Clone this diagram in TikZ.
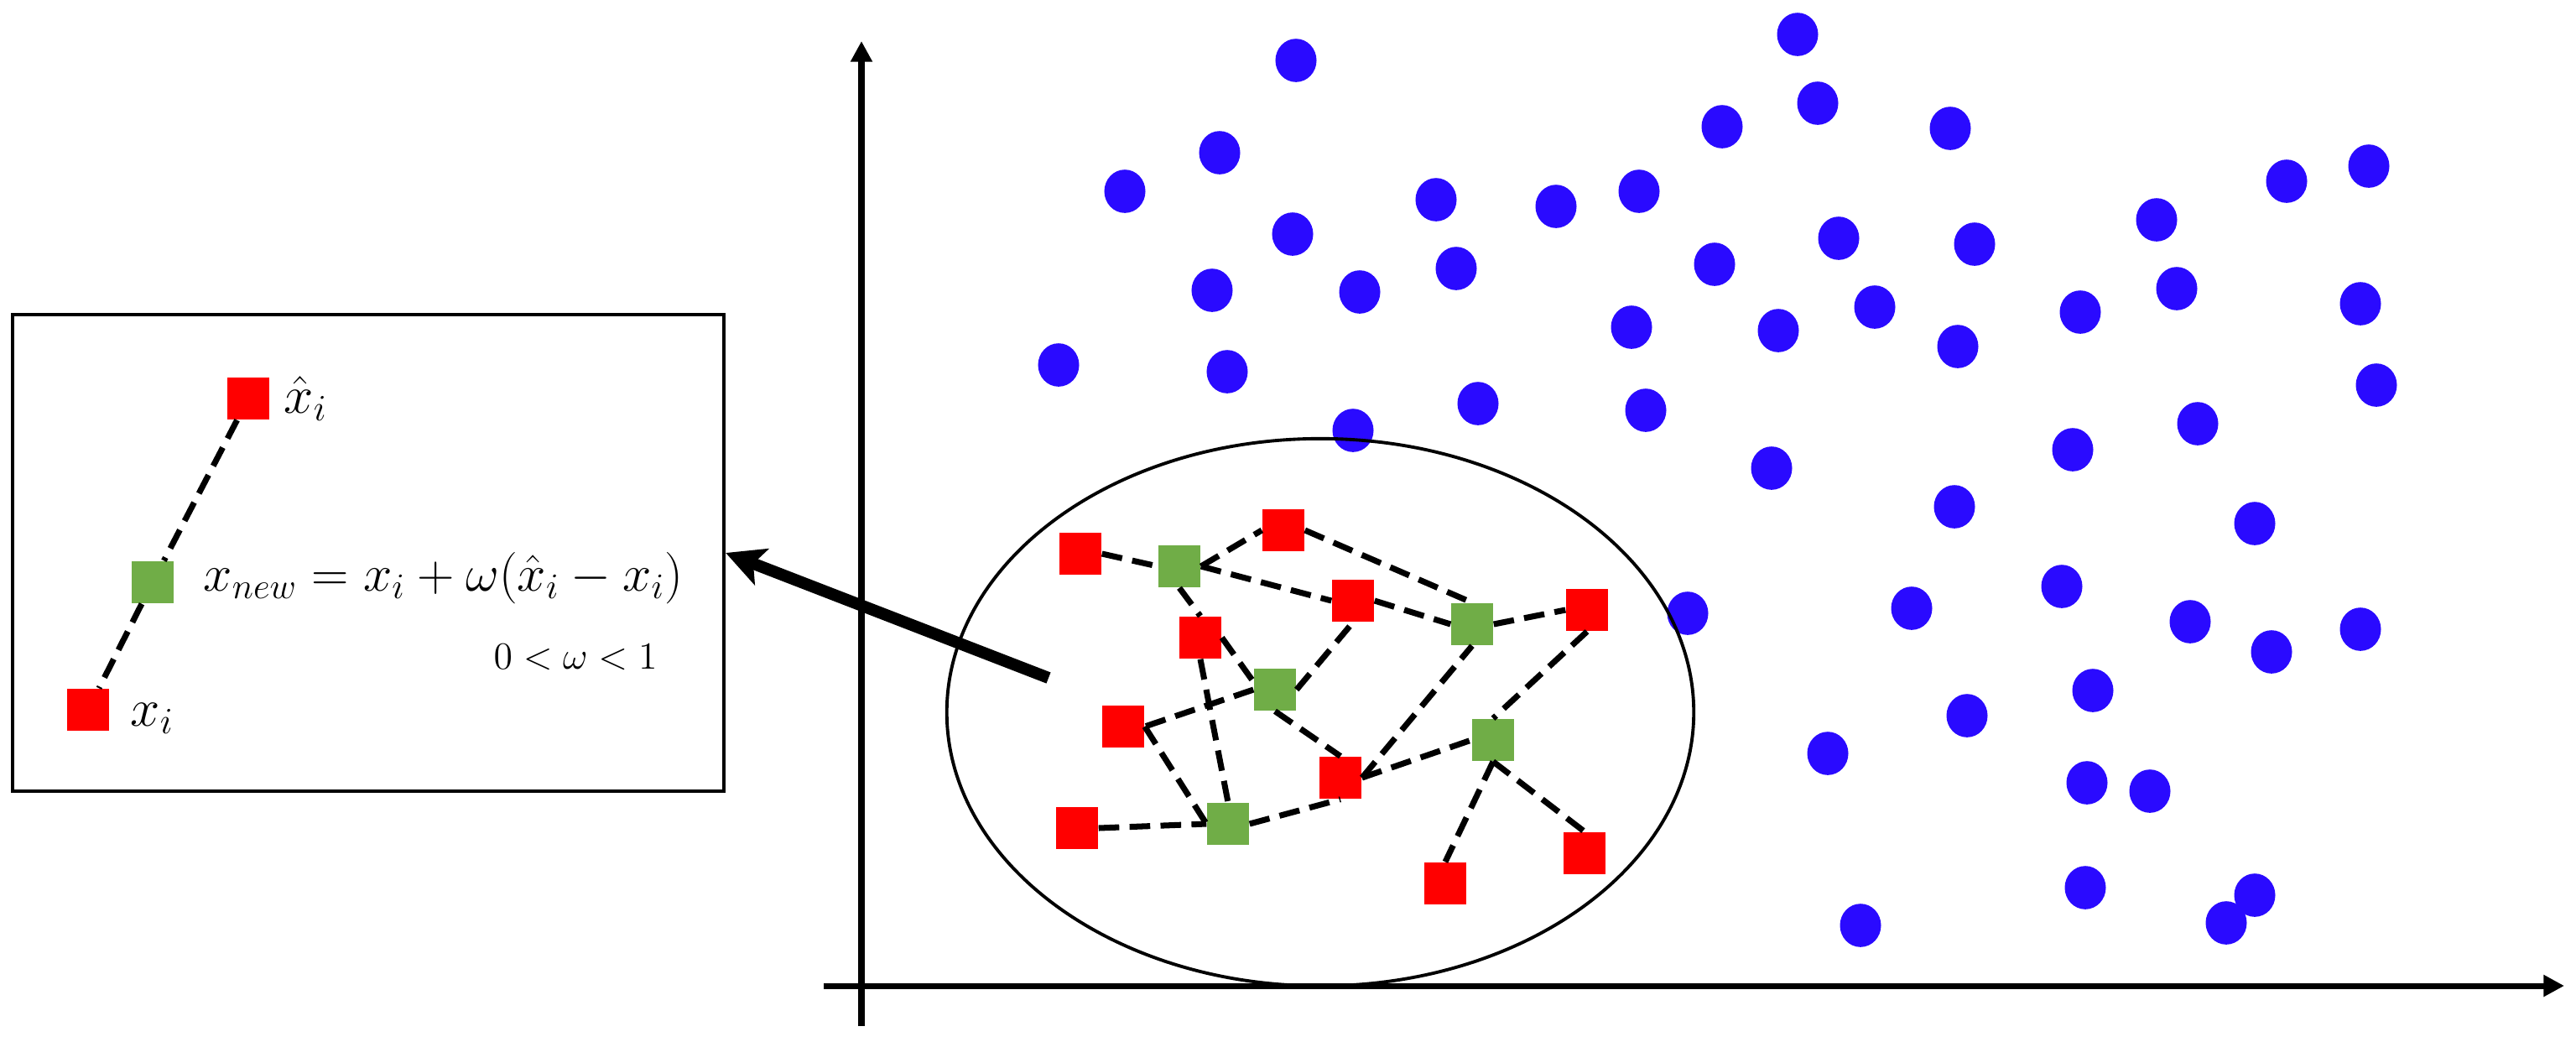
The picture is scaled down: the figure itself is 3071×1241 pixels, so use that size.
\RequirePackage{fix-cm}
\documentclass[tikz,border=0pt]{standalone}
\usetikzlibrary{arrows.meta}
\definecolor{sqred}{RGB}{255,0,0}
\definecolor{sqgreen}{RGB}{112,173,71}
\definecolor{dotblue}{RGB}{42,10,255}
\tikzset{
  redsq/.style={rectangle,fill=sqred,minimum size=0.5cm,inner sep=0pt},
  greensq/.style={rectangle,fill=sqgreen,minimum size=0.5cm,inner sep=0pt},
  dashedge/.style={line width=2pt,dash pattern=on 7pt off 3.5pt},
  axisline/.style={line width=2pt,-{Triangle[length=7pt,width=7pt]}},
  lbl/.style={font=\fontsize{18}{20}\selectfont,inner sep=0pt},
  fmlbl/.style={font=\fontsize{17.5}{20}\selectfont,inner sep=0pt},
  smalllbl/.style={font=\fontsize{13}{15}\selectfont,inner sep=0pt},
  bluedot/.style={fill=dotblue},
}
\begin{document}
\begin{tikzpicture}[x=0.01cm,y=-0.01cm]
\useasboundingbox (0,0) rectangle (3071,1241);

% axes
\coordinate (xo) at (982,1175);
\coordinate (xe) at (3057,1175);
\coordinate (yo) at (1027,1223);
\coordinate (ye) at (1027,49);
\draw[axisline] (xo) -- (xe);
\draw[axisline] (yo) -- (ye);

% blue dots
\foreach \px/\py in {
  1545/72, 1454/182, 1341/228, 1712/238, 1855/246, 1954/228, 1541/279,
  1736/320, 1445/346, 1621/348, 1945/390, 1262/435, 1463/443, 1762/481,
  1962/489, 1613/513,
  2143/41, 2167/123, 2053/151, 2325/153, 2726/216, 2824/198, 2571/262,
  2192/284, 2354/291, 2044/315, 2120/394, 2235/366, 2480/372, 2595/344,
  2814/362, 2334/413, 2833/459, 2112/558, 2620/505, 2471/536, 2330/604,
  2688/624,
  2012/731, 2279/725, 2458/699, 2611/741, 2708/777, 2814/750, 2495/823,
  2345/853, 2179/898, 2488/933, 2563/943, 2486/1058, 2688/1067,
  2654/1100, 2218/1103}
  \fill[bluedot] (\px,\py) ellipse [x radius=0.245cm, y radius=0.258cm];

% cluster ellipse
\draw[line width=1.1pt] (1574,849) ellipse [x radius=4.45cm, y radius=3.26cm];

% cluster squares
\node[redsq] (R1) at (1288,660) {};
\node[greensq] (G1) at (1406,675) {};
\node[redsq] (R2) at (1530,632) {};
\node[redsq] (R3) at (1613,716) {};
\node[greensq] (G2) at (1755,744) {};
\node[redsq] (R4) at (1892,727) {};
\node[redsq] (R5) at (1431,760) {};
\node[greensq] (G3) at (1520,822) {};
\node[redsq] (R6) at (1339,866) {};
\node[greensq] (G4) at (1780,882) {};
\node[redsq] (R7) at (1598,927) {};
\node[redsq] (R8) at (1284,987) {};
\node[greensq] (G5) at (1464,982) {};
\node[redsq] (R9) at (1889,1017) {};
\node[redsq] (R10) at (1723,1053) {};

% cluster edges
\draw[dashedge] (R1.east) -- (G1.west);
\draw[dashedge] (G1.east) -- (R2.west);
\draw[dashedge] (G1.east) -- (R3.west);
\draw[dashedge] (R3.east) -- (G2.west);
\draw[dashedge] (R2.east) -- (G2.north);
\draw[dashedge] (G2.east) -- (R4.west);
\draw[dashedge] (G1.south) -- (R5.north);
\draw[dashedge] (R5.east) -- (G3.160);
\draw[dashedge] (R5.south) -- (G5.north);
\draw[dashedge] (G3.east) -- (R3.south);
\draw[dashedge] (G3.west) -- (R6.east);
\draw[dashedge] (G3.south) -- (R7.north);
\draw[dashedge] (R6.east) -- (G5.west);
\draw[dashedge] (R8.east) -- (G5.west);
\draw[dashedge] (G5.east) -- (R7.south);
\draw[dashedge] (R7.east) -- (G2.south);
\draw[dashedge] (R7.east) -- (G4.west);
\draw[dashedge] (R4.south) -- (G4.north);
\draw[dashedge] (G4.south) -- (R10.north);
\draw[dashedge] (G4.south) -- (R9.north);

% left box
\node[draw,line width=1.1pt,minimum width=8.48cm,minimum height=5.68cm,inner sep=0pt] (box) at (439,659) {};
\node[redsq] (rt) at (296,475) {};
\node[greensq] (gm) at (182,694) {};
\node[redsq] (rb) at (105,846) {};
\draw[dashedge] (rt) -- (gm);
\draw[dashedge] (gm) -- (rb);
\node[lbl,anchor=base west] (lt) at (338,492) {$\hat{x}_i$};
\node[fmlbl,anchor=base west] (fm) at (242,704) {$x_{new} = x_i + \omega(\hat{x}_i - x_i)$};
\node[smalllbl,anchor=base west] (cond) at (588,797) {$0<\omega<1$};
\node[lbl,anchor=base west] (lb) at (155,865) {$x_i$};

% big arrow
\coordinate (tail) at (1250,808);
\draw[line width=4pt,-{Stealth[length=13pt,width=13pt,inset=3pt]}] (tail) -- (box.east);
\end{tikzpicture}
\end{document}
